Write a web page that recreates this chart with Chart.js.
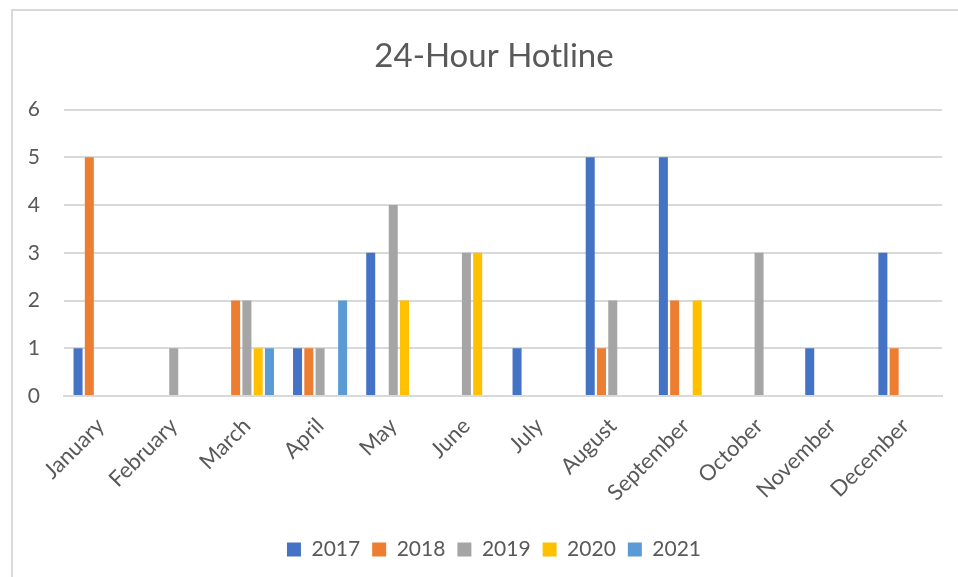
<!doctype html>
<html lang="en">
<head>
  <meta charset="utf-8">
  <title>24-Hour Hotline</title>
  <script src="https://cdn.jsdelivr.net/npm/chart.js@4.4.1/dist/chart.umd.min.js"></script>
  <style>
    body { margin: 0; background: #fff; }
    .frame {
      position: absolute; left: 11px; top: 9px;
      width: 1000px; height: 600px;
      border: 2px solid #d9d9d9; box-sizing: border-box;
    }
    .wrap { position: absolute; left: 0; top: 0; width: 958px; height: 577px; }
  </style>
</head>
<body>
  <div class="frame"></div>
  <div class="wrap"><canvas id="chart" width="958" height="577"></canvas></div>
  <script>
    const months = ['January', 'February', 'March', 'April', 'May', 'June', 'July',
      'August', 'September', 'October', 'November', 'December'];
    const y2017 = [1, 0, 0, 1, 3, 0, 1, 5, 5, 0, 1, 3];
    const y2018 = [5, 0, 2, 1, 0, 0, 0, 1, 2, 0, 0, 1];
    const y2019 = [0, 1, 2, 1, 4, 3, 0, 2, 0, 3, 0, 0];
    const y2020 = [0, 0, 1, 0, 2, 3, 0, 0, 2, 0, 0, 0];
    const y2021 = [0, 0, 1, 2, 0, 0, 0, 0, 0, 0, 0, 0];
    const yTicks = [0, 1, 2, 3, 4, 5, 6];

    const grey = '#595959';
    const font = 'Lato, "Noto Sans", sans-serif';

    function set(label, data, color) {
      return { label: label, data: data, backgroundColor: color, borderWidth: 0 };
    }

    // the excel frame runs past the right edge, so title and legend
    // sit a bit right of the canvas centre
    const nudge = {
      id: 'nudge',
      afterLayout(chart) {
        [chart.titleBlock, chart.legend].forEach(b => {
          if (b) { b.left += 17; b.right += 17; }
        });
      }
    };

    new Chart(document.getElementById('chart'), {
      type: 'bar',
      data: {
        labels: months,
        datasets: [
          set('2017', y2017, '#4472c4'),
          set('2018', y2018, '#ed7d31'),
          set('2019', y2019, '#a5a5a5'),
          set('2020', y2020, '#ffc000'),
          set('2021', y2021, '#5b9bd5')
        ]
      },
      plugins: [nudge],
      options: {
        responsive: false,
        animation: false,
        datasets: { bar: { categoryPercentage: 0.77, barPercentage: 0.8 } },
        layout: { padding: { left: 12, right: 16, top: 0, bottom: 7 } },
        plugins: {
          title: {
            display: true,
            text: '24-Hour Hotline',
            color: grey,
            font: { family: font, size: 33, weight: 'normal' },
            padding: { top: 37, bottom: 33 }
          },
          legend: {
            position: 'bottom',
            labels: {
              color: grey,
              boxWidth: 14, boxHeight: 14,
              padding: 12,
              font: { family: font, size: 21 }
            }
          },
          tooltip: { enabled: false }
        },
        scales: {
          x: {
            grid: { display: false },
            border: { color: '#d9d9d9', width: 2 },
            ticks: {
              color: grey, minRotation: 45, maxRotation: 45, padding: 9,
              font: { family: font, size: 22 }
            },
            afterFit: s => { s.height = 131; }
          },
          y: {
            min: 0, max: 6,
            afterBuildTicks: s => { s.ticks = yTicks.map(v => ({ value: v })); },
            grid: { color: '#d9d9d9', lineWidth: 2, drawTicks: false },
            border: { display: false },
            ticks: {
              color: grey, padding: 24,
              font: { family: font, size: 21 }
            },
            afterFit: s => { s.width = 52; }
          }
        }
      }
    });
  </script>
</body>
</html>
